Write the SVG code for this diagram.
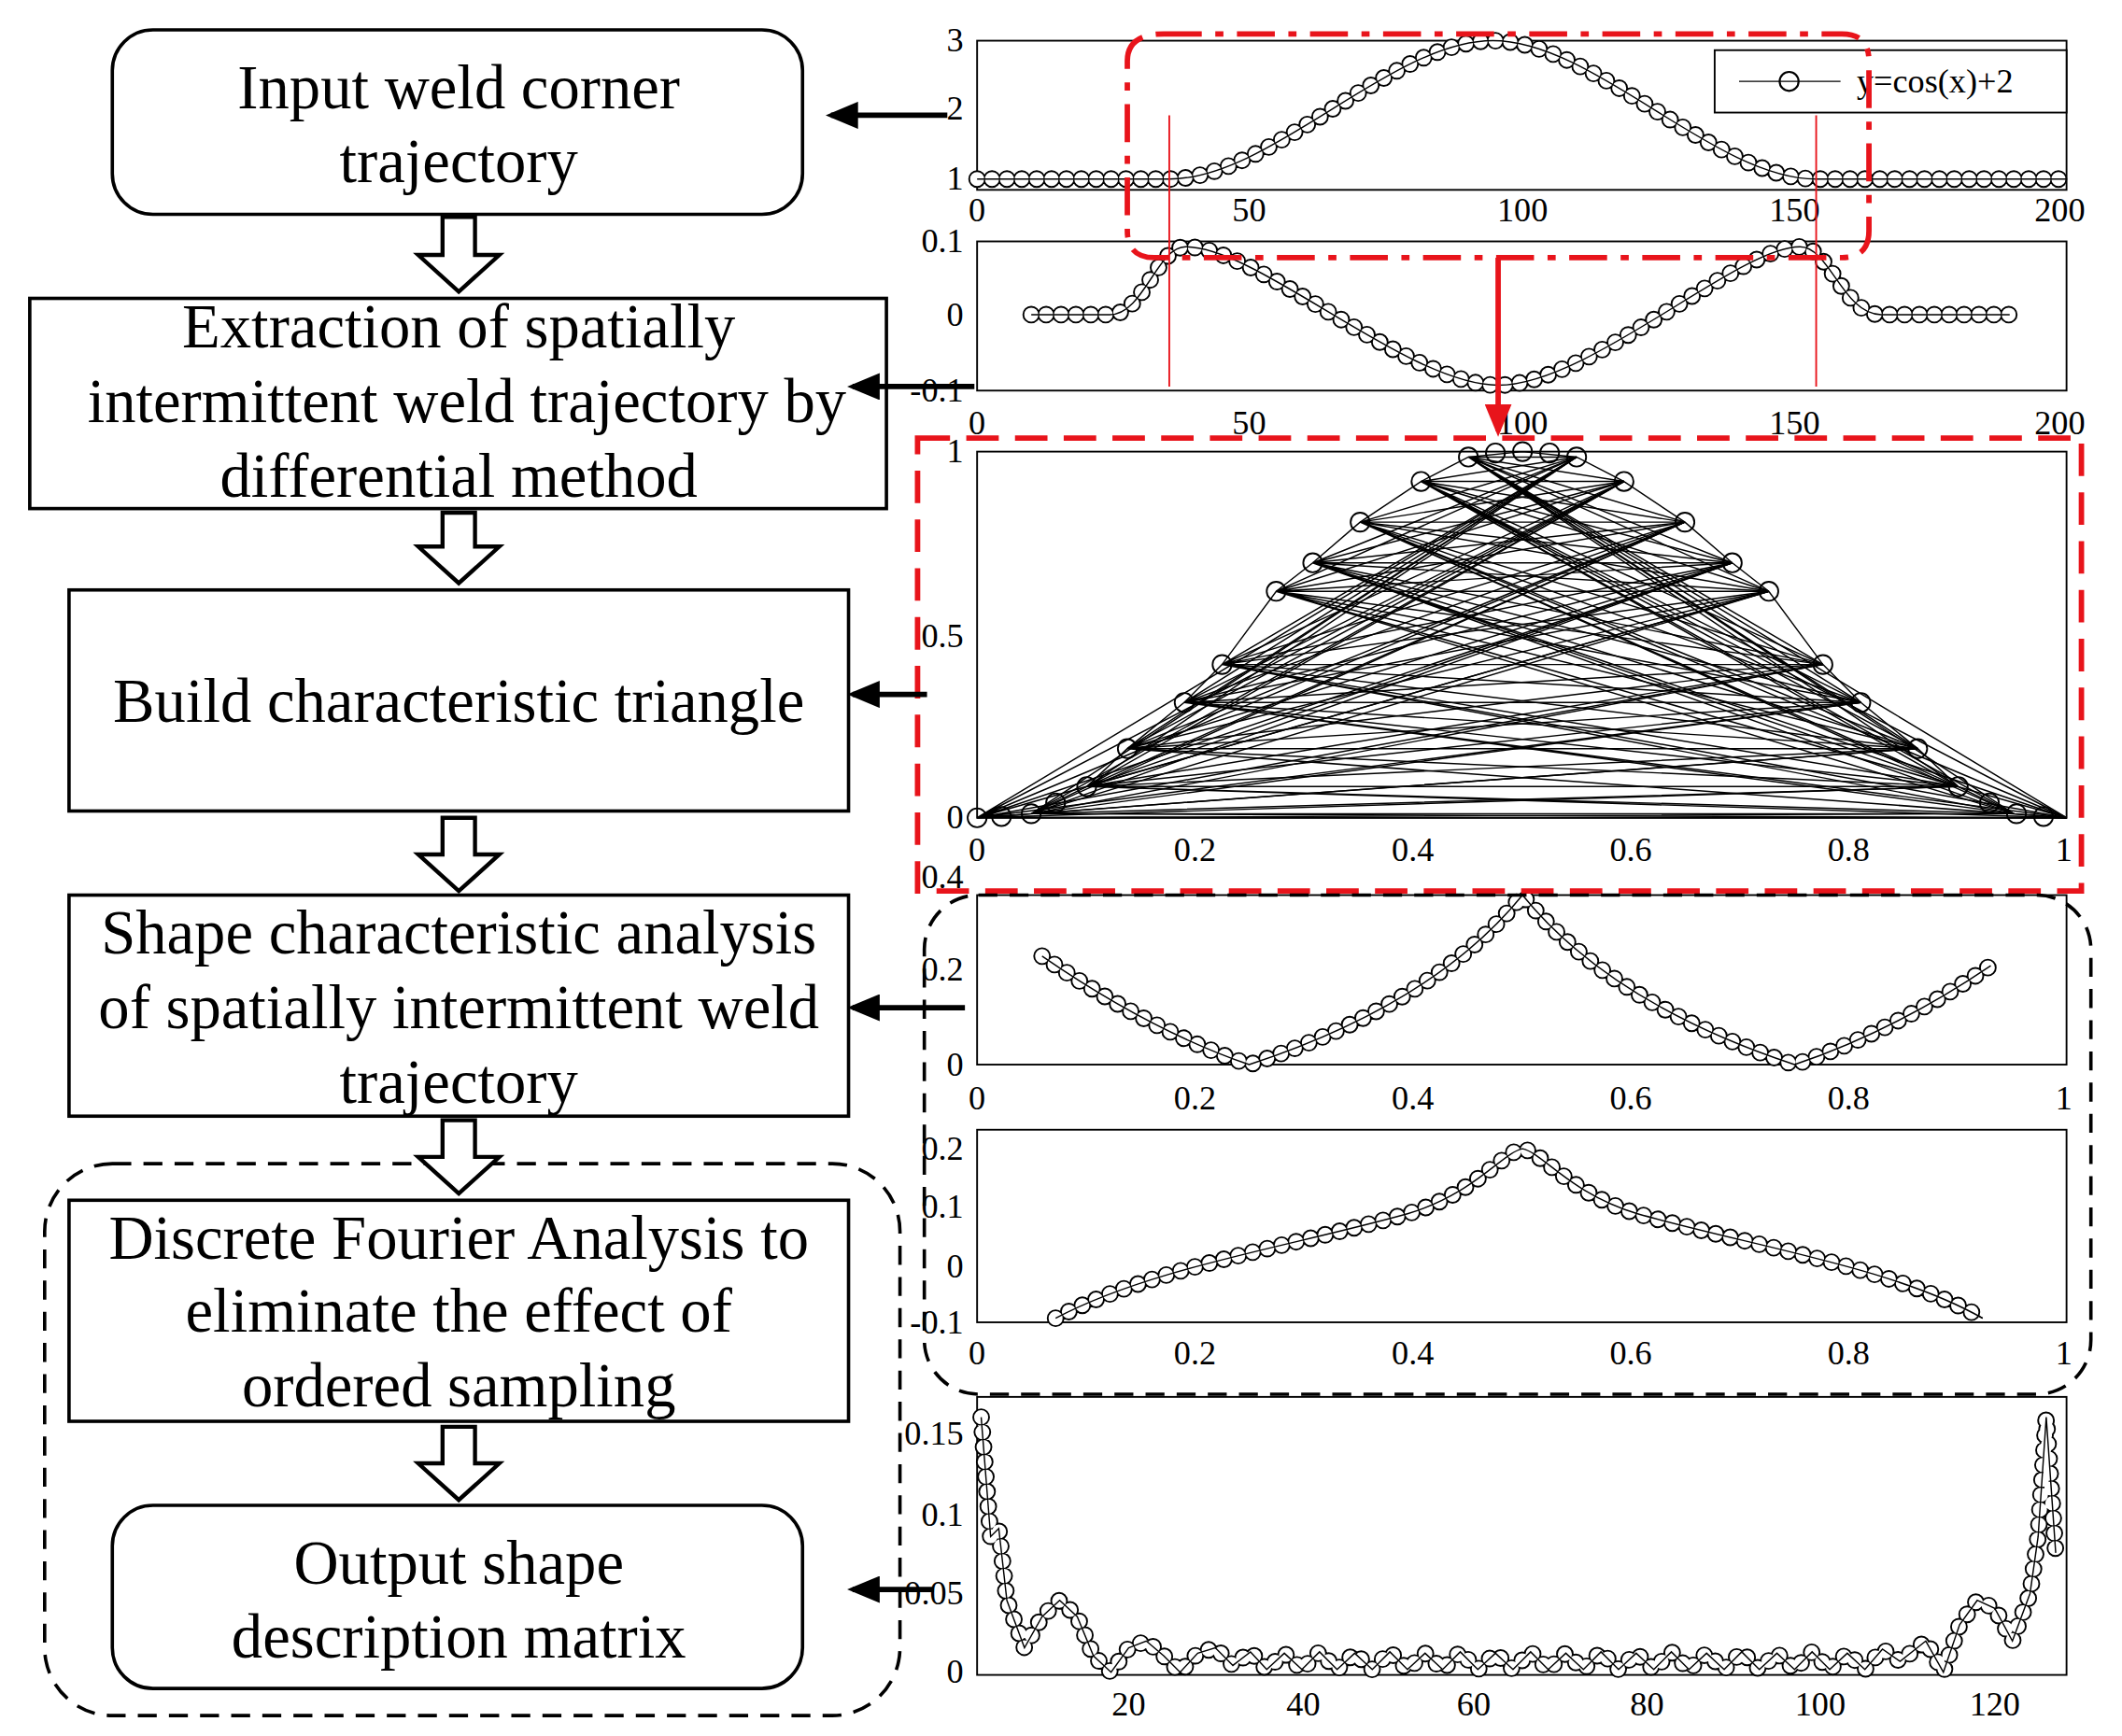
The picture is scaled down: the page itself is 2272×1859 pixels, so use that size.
<svg xmlns="http://www.w3.org/2000/svg" width="2272" height="1859" viewBox="0 0 2272 1859">
<style>
.box{fill:#fff;stroke:#000;stroke-width:2.5}
.t{font-family:"Liberation Serif",serif;font-size:46px;text-anchor:middle;fill:#000}
.ax{font-family:"Liberation Serif",serif;font-size:25px;fill:#000}
.yl{text-anchor:end}
.xl{text-anchor:middle}
.frame{fill:#fff;stroke:#000;stroke-width:1.3}
.hollow{fill:#fff;stroke:#000;stroke-width:3}
.arr{stroke:#000;stroke-width:4;fill:none;marker-end:url(#ah)}
.ro{fill:none;stroke:#000;stroke-width:13;stroke-dasharray:0 11;stroke-linecap:round}
.ri{fill:none;stroke:#fff;stroke-width:10.4;stroke-dasharray:0 11;stroke-linecap:round}
.ln{fill:none;stroke:#000;stroke-width:1}
.red{fill:none;stroke:#e8141b;stroke-width:4}
</style>
<defs>
<marker id="ah" markerWidth="6" markerHeight="5" refX="5" refY="2.5" orient="auto" markerUnits="strokeWidth"><path d="M0,0 L6,2.5 L0,5 Z" fill="#000"/></marker>
<marker id="rah" markerWidth="6" markerHeight="5" refX="5" refY="2.5" orient="auto" markerUnits="strokeWidth"><path d="M0,0 L6,2.5 L0,5 Z" fill="#e8141b"/></marker>
<path id="c1" d="M722,132 H864 C939,132 1028,30 1103,30 C1178,30 1267,132 1342,132 H1527"/>
<path id="c2" d="M762,232 H820 C845,232 855,182 876,182 C930,182 1040,284 1107,284 C1174,284 1284,182 1330,182 C1352,182 1362,232 1390,232 H1485"/>
<path id="c4" d="M770,705 Q850,760 923,785 Q1060,740 1125,660 Q1190,740 1326,785 Q1400,760 1471,712"/>
<path id="c5" d="M780,972 C850,935 950,920 1040,895 C1090,880 1110,850 1125,847 C1140,850 1160,880 1210,895 C1300,920 1400,935 1465,972"/>
<path id="c6" d="M725,1045 L732,1133 L738,1127 L744,1180 L757,1215 L770,1192 L783,1180 L796,1192 L808,1221 L821,1233 L834,1215 L847,1210 L860,1221 L872,1233 L885,1219 L898,1215 L911,1228 L924,1218 L936,1231 L949,1219 L962,1231 L975,1218 L988,1231 L1001,1219 L1014,1231 L1027,1218 L1040,1231 L1053,1219 L1066,1231 L1079,1218 L1092,1231 L1105,1219 L1118,1231 L1131,1218 L1144,1231 L1157,1219 L1170,1231 L1183,1218 L1196,1231 L1209,1219 L1222,1231 L1235,1218 L1248,1231 L1261,1219 L1274,1231 L1287,1218 L1300,1231 L1313,1219 L1326,1231 L1339,1218 L1352,1231 L1365,1219 L1378,1231 L1391,1216 L1404,1225 L1423,1210 L1436,1233 L1448,1198 L1461,1180 L1474,1186 L1487,1210 L1500,1175 L1506,1133 L1512,1045 L1519,1145"/>
</defs>
<g transform="scale(1.449,1.4523)">
<g id="plot1">
<rect class="frame" x="722" y="30" width="805" height="110"/>
<use href="#c1" class="ln"/><use href="#c1" class="ro"/><use href="#c1" class="ri"/><use href="#c1" class="ln"/>
<rect x="1267" y="37" width="260" height="46" fill="#fff" stroke="#000" stroke-width="1.3"/>
<line x1="1285" y1="60" x2="1360" y2="60" stroke="#000"/><circle cx="1322" cy="60" r="7" fill="none" stroke="#000" stroke-width="1.5"/>
<text class="ax" x="1372" y="68">y=cos(x)+2</text>
<text class="ax yl" x="712" y="38">3</text><text class="ax yl" x="712" y="88">2</text><text class="ax yl" x="712" y="140">1</text>
<text class="ax xl" x="722" y="163">0</text><text class="ax xl" x="923" y="163">50</text><text class="ax xl" x="1125" y="163">100</text><text class="ax xl" x="1326" y="163">150</text><text class="ax xl" x="1522" y="163">200</text>
</g>
<g id="plot2">
<rect class="frame" x="722" y="178" width="805" height="110"/>
<use href="#c2" class="ln"/><use href="#c2" class="ro"/><use href="#c2" class="ri"/><use href="#c2" class="ln"/>
<text class="ax yl" x="712" y="186">0.1</text><text class="ax yl" x="712" y="240">0</text><text class="ax yl" x="712" y="296">-0.1</text>
<text class="ax xl" x="722" y="320">0</text><text class="ax xl" x="923" y="320">50</text><text class="ax xl" x="1125" y="320">100</text><text class="ax xl" x="1326" y="320">150</text><text class="ax xl" x="1522" y="320">200</text>
</g>
<g id="plot3">
<rect class="frame" x="722" y="333" width="805" height="270"/>
<g class="ln">
<path d="M722,603 L1527,603 M722,603 L1488,600 M722,603 L1447,580 M722,603 L1417,552 M722,603 L1375,518 M722,603 L1347,490 M722,603 L1307,436 M722,603 L1280,415 M722,603 L1245,385 M722,603 L1200,355 M722,603 L1165,337"/>
<path d="M762,600 L1527,603 M762,600 L1488,600 M762,600 L1447,580 M762,600 L1417,552 M762,600 L1375,518 M762,600 L1347,490 M762,600 L1307,436 M762,600 L1280,415 M762,600 L1245,385 M762,600 L1200,355 M762,600 L1165,337"/>
<path d="M803,580 L1527,603 M803,580 L1488,600 M803,580 L1447,580 M803,580 L1417,552 M803,580 L1375,518 M803,580 L1347,490 M803,580 L1307,436 M803,580 L1280,415 M803,580 L1245,385 M803,580 L1200,355 M803,580 L1165,337"/>
<path d="M833,552 L1527,603 M833,552 L1488,600 M833,552 L1447,580 M833,552 L1417,552 M833,552 L1375,518 M833,552 L1347,490 M833,552 L1307,436 M833,552 L1280,415 M833,552 L1245,385 M833,552 L1200,355 M833,552 L1165,337"/>
<path d="M875,518 L1527,603 M875,518 L1488,600 M875,518 L1447,580 M875,518 L1417,552 M875,518 L1375,518 M875,518 L1347,490 M875,518 L1307,436 M875,518 L1280,415 M875,518 L1245,385 M875,518 L1200,355 M875,518 L1165,337"/>
<path d="M903,490 L1527,603 M903,490 L1488,600 M903,490 L1447,580 M903,490 L1417,552 M903,490 L1375,518 M903,490 L1347,490 M903,490 L1307,436 M903,490 L1280,415 M903,490 L1245,385 M903,490 L1200,355 M903,490 L1165,337"/>
<path d="M943,436 L1527,603 M943,436 L1488,600 M943,436 L1447,580 M943,436 L1417,552 M943,436 L1375,518 M943,436 L1347,490 M943,436 L1307,436 M943,436 L1280,415 M943,436 L1245,385 M943,436 L1200,355 M943,436 L1165,337"/>
<path d="M970,415 L1527,603 M970,415 L1488,600 M970,415 L1447,580 M970,415 L1417,552 M970,415 L1375,518 M970,415 L1347,490 M970,415 L1307,436 M970,415 L1280,415 M970,415 L1245,385 M970,415 L1200,355 M970,415 L1165,337"/>
<path d="M1005,385 L1527,603 M1005,385 L1488,600 M1005,385 L1447,580 M1005,385 L1417,552 M1005,385 L1375,518 M1005,385 L1347,490 M1005,385 L1307,436 M1005,385 L1280,415 M1005,385 L1245,385 M1005,385 L1200,355 M1005,385 L1165,337"/>
<path d="M1050,355 L1527,603 M1050,355 L1488,600 M1050,355 L1447,580 M1050,355 L1417,552 M1050,355 L1375,518 M1050,355 L1347,490 M1050,355 L1307,436 M1050,355 L1280,415 M1050,355 L1245,385 M1050,355 L1200,355 M1050,355 L1165,337"/>
<path d="M1085,337 L1527,603 M1085,337 L1488,600 M1085,337 L1447,580 M1085,337 L1417,552 M1085,337 L1375,518 M1085,337 L1347,490 M1085,337 L1307,436 M1085,337 L1280,415 M1085,337 L1245,385 M1085,337 L1200,355 M1085,337 L1165,337"/>
<path d="M722,603 L762,600 L803,580 L833,552 L875,518 L903,490 L943,436 L970,415 L1005,385 L1050,355 L1085,337 L1125,333 L1165,337 L1200,355 L1245,385 L1280,415 L1307,436 L1347,490 L1375,518 L1417,552 L1447,580 L1488,600 L1527,603"/>
</g>
<g fill="none" stroke="#000" stroke-width="1.3"><circle cx="722" cy="603" r="7"/><circle cx="740" cy="602" r="7"/><circle cx="762" cy="600" r="7"/><circle cx="780" cy="592" r="7"/><circle cx="803" cy="580" r="7"/><circle cx="833" cy="552" r="7"/><circle cx="875" cy="518" r="7"/><circle cx="903" cy="490" r="7"/><circle cx="943" cy="436" r="7"/><circle cx="970" cy="415" r="7"/><circle cx="1005" cy="385" r="7"/><circle cx="1050" cy="355" r="7"/><circle cx="1085" cy="337" r="7"/><circle cx="1105" cy="334" r="7"/><circle cx="1125" cy="333" r="7"/><circle cx="1145" cy="334" r="7"/><circle cx="1165" cy="337" r="7"/><circle cx="1200" cy="355" r="7"/><circle cx="1245" cy="385" r="7"/><circle cx="1280" cy="415" r="7"/><circle cx="1307" cy="436" r="7"/><circle cx="1347" cy="490" r="7"/><circle cx="1375" cy="518" r="7"/><circle cx="1417" cy="552" r="7"/><circle cx="1447" cy="580" r="7"/><circle cx="1470" cy="592" r="7"/><circle cx="1490" cy="600" r="7"/><circle cx="1510" cy="602" r="7"/></g>
<text class="ax yl" x="712" y="341">1</text><text class="ax yl" x="712" y="477">0.5</text><text class="ax yl" x="712" y="611">0</text>
<text class="ax xl" x="722" y="635">0</text><text class="ax xl" x="883" y="635">0.2</text><text class="ax xl" x="1044" y="635">0.4</text><text class="ax xl" x="1205" y="635">0.6</text><text class="ax xl" x="1366" y="635">0.8</text><text class="ax xl" x="1525" y="635">1</text>
</g>
<g id="plot4">
<rect class="frame" x="722" y="660" width="805" height="125"/>
<use href="#c4" class="ln"/><use href="#c4" class="ro"/><use href="#c4" class="ri"/><use href="#c4" class="ln"/>
<text class="ax yl" x="712" y="655">0.4</text><text class="ax yl" x="712" y="723">0.2</text><text class="ax yl" x="712" y="793">0</text>
<text class="ax xl" x="722" y="818">0</text><text class="ax xl" x="883" y="818">0.2</text><text class="ax xl" x="1044" y="818">0.4</text><text class="ax xl" x="1205" y="818">0.6</text><text class="ax xl" x="1366" y="818">0.8</text><text class="ax xl" x="1525" y="818">1</text>
</g>
<g id="plot5">
<rect class="frame" x="722" y="833" width="805" height="142"/>
<use href="#c5" class="ln"/><use href="#c5" class="ro"/><use href="#c5" class="ri"/><use href="#c5" class="ln"/>
<text class="ax yl" x="712" y="855">0.2</text><text class="ax yl" x="712" y="898">0.1</text><text class="ax yl" x="712" y="942">0</text><text class="ax yl" x="712" y="983">-0.1</text>
<text class="ax xl" x="722" y="1006">0</text><text class="ax xl" x="883" y="1006">0.2</text><text class="ax xl" x="1044" y="1006">0.4</text><text class="ax xl" x="1205" y="1006">0.6</text><text class="ax xl" x="1366" y="1006">0.8</text><text class="ax xl" x="1525" y="1006">1</text>
</g>
<g id="plot6">
<rect class="frame" x="722" y="1030" width="805" height="205"/>
<use href="#c6" class="ln"/><use href="#c6" class="ro"/><use href="#c6" class="ri"/><use href="#c6" class="ln"/>
<text class="ax yl" x="712" y="1065">0.15</text><text class="ax yl" x="712" y="1125">0.1</text><text class="ax yl" x="712" y="1183">0.05</text><text class="ax yl" x="712" y="1241">0</text>
<text class="ax xl" x="834" y="1265">20</text><text class="ax xl" x="963" y="1265">40</text><text class="ax xl" x="1089" y="1265">60</text><text class="ax xl" x="1217" y="1265">80</text><text class="ax xl" x="1345" y="1265">100</text><text class="ax xl" x="1474" y="1265">120</text>
</g>
<g id="regions">
<path class="red" stroke-dasharray="28 10 6 10" d="M860,25 H1361 Q1381,25 1381,45 V170 Q1381,190 1361,190 H853 Q833,190 833,170 V45 Q833,25 860,25 Z"/>
<rect class="red" x="678" y="323" width="860" height="334" stroke-dasharray="24 12"/>
<rect x="683" y="660" width="862" height="368" rx="40" fill="none" stroke="#000" stroke-width="2.5" stroke-dasharray="14 9"/>
<rect x="33" y="858" width="632" height="407" rx="50" fill="none" stroke="#000" stroke-width="2.5" stroke-dasharray="14 9"/>
<line x1="864" y1="85" x2="864" y2="285" stroke="#e8141b" stroke-width="1.3"/>
<line x1="1342" y1="85" x2="1342" y2="285" stroke="#e8141b" stroke-width="1.3"/>
</g>
<g id="n1"><rect class="box" x="83" y="22" width="510" height="136" rx="30"/><text class="t" x="339" y="80">Input weld corner</text><text class="t" x="339" y="134">trajectory</text></g>
<g id="n2"><rect class="box" x="22" y="220" width="633" height="155"/><text class="t" x="339" y="256">Extraction of spatially</text><text class="t" x="345" y="311">intermittent weld trajectory by</text><text class="t" x="339" y="366">differential method</text></g>
<g id="n3"><rect class="box" x="51" y="435" width="576" height="163"/><text class="t" x="339" y="532">Build characteristic triangle</text></g>
<g id="n4"><rect class="box" x="51" y="660" width="576" height="163"/><text class="t" x="339" y="703">Shape characteristic analysis</text><text class="t" x="339" y="758">of spatially intermittent weld</text><text class="t" x="339" y="813">trajectory</text></g>
<g id="n5"><rect class="box" x="51" y="885" width="576" height="163"/><text class="t" x="339" y="928">Discrete Fourier Analysis to</text><text class="t" x="339" y="982">eliminate the effect of</text><text class="t" x="339" y="1037">ordered sampling</text></g>
<g id="n6"><rect class="box" x="83" y="1110" width="510" height="135" rx="30"/><text class="t" x="339" y="1168">Output shape</text><text class="t" x="339" y="1222">description matrix</text></g>
<g id="connectors">
<path class="hollow" d="M327,160 H351 V188 H369 L339,215 L309,188 H327 Z"/>
<path class="hollow" d="M327,378 H351 V403 H369 L339,430 L309,403 H327 Z"/>
<path class="hollow" d="M327,603 H351 V630 H369 L339,657 L309,630 H327 Z"/>
<path class="hollow" d="M327,826 H351 V853 H369 L339,880 L309,853 H327 Z"/>
<path class="hollow" d="M327,1052 H351 V1079 H369 L339,1106 L309,1079 H327 Z"/>
<line class="arr" x1="700" y1="85" x2="614" y2="85"/>
<line class="arr" x1="720" y1="285" x2="630" y2="285"/>
<line class="arr" x1="685" y1="512" x2="630" y2="512"/>
<line class="arr" x1="713" y1="743" x2="630" y2="743"/>
<line class="arr" x1="690" y1="1172" x2="630" y2="1172"/>
<line x1="1107" y1="190" x2="1107" y2="318" stroke="#e8141b" stroke-width="4" marker-end="url(#rah)"/>
</g>
</g>
</svg>
